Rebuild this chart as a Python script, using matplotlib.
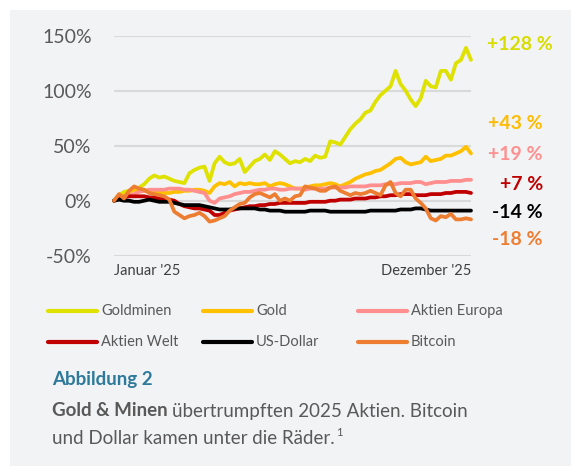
import matplotlib
matplotlib.use("Agg")
import matplotlib.pyplot as plt
from matplotlib.patches import Rectangle
from matplotlib.lines import Line2D

# values in % (performance 2025), sampled across the year
goldminen = [0, 5, 8, 9, 10, 12, 15, 20, 23, 21, 22, 20, 18, 17, 16, 25, 28, 30, 31, 18,
             34, 40, 35, 33, 34, 38, 26, 31, 36, 38, 42, 37, 45, 42, 38, 34, 36, 35, 38, 36,
             41, 39, 40, 54, 53, 51, 58, 65, 70, 74, 80, 82, 90, 96, 100, 104, 118, 106, 100, 92,
             86, 93, 109, 104, 103, 118, 118, 110, 125, 128, 139, 128]
gold = [0, 3, 5, 8, 10, 9, 9, 8, 8, 8, 7, 7, 8, 8, 9, 9, 10, 10, 9, 7,
        13, 16, 15, 17, 13, 16, 15, 16, 15, 15, 16, 13, 15, 16, 15, 13, 11, 11, 12, 13,
        14, 14, 15, 16, 15, 13, 15, 17, 20, 22, 24, 25, 27, 28, 31, 34, 38, 39, 35, 33,
        34, 35, 40, 36, 37, 38, 41, 41, 43, 45, 49, 43]
aktien_europa = [0, 2, 4, 5, 6, 8, 9, 10, 10, 10, 10, 11, 11, 11, 10, 10, 9, 8, 7, 0,
                 -2, 2, 3, 4, 6, 7, 8, 8, 9, 10, 10, 11, 11, 10, 10, 11, 11, 11, 10, 11,
                 11, 11, 11, 12, 12, 12, 12, 13, 13, 13, 13, 14, 14, 14, 15, 15, 15, 16, 16, 16,
                 17, 17, 15, 16, 17, 17, 17, 18, 18, 18, 19, 19]
aktien_welt = [0, 2, 3, 4, 4, 4, 4, 3, 3, 2, 1, 1, 0, -3, -5, -6, -7, -7, -8, -9,
               -13, -13, -11, -9, -8, -7, -6, -5, -5, -4, -4, -3, -3, -2, -2, -2, -2, -2, -2, -1,
               -1, -1, -1, 0, 0, 1, 1, 1, 2, 2, 2, 3, 3, 4, 4, 5, 5, 6, 6, 6,
               5, 5, 5, 6, 6, 6, 7, 7, 8, 8, 8, 7]
us_dollar = [0, 1, 0, 0, -1, -1, 0, 1, 0, -1, -1, -1, -2, -3, -4, -4, -4, -4, -5, -6,
             -7, -8, -8, -8, -7, -7, -7, -7, -7, -8, -8, -9, -9, -9, -10, -10, -10, -10, -10, -9,
             -9, -9, -9, -10, -10, -10, -10, -10, -10, -10, -10, -9, -9, -9, -9, -9, -9, -8, -8, -8,
             -7, -7, -8, -9, -9, -9, -9, -9, -9, -9, -9, -9]
bitcoin = [0, 6, 2, 9, 13, 11, 10, 7, 6, 5, 4, 1, -10, -13, -16, -14, -13, -11, -14, -19,
           -18, -16, -14, -9, -6, -3, -2, 3, 6, 7, 5, 3, 6, 0, 2, 0, 4, 5, 13, 12,
           11, 9, 9, 12, 13, 9, 7, 5, 7, 6, 7, 9, 7, 5, 14, 17, 7, 4, 10, 10,
           2, -2, -7, -16, -18, -14, -15, -12, -17, -17, -16, -17]

series_names = ["Goldminen", "Gold", "Aktien Europa", "Aktien Welt", "US-Dollar", "Bitcoin"]
series_values = [goldminen, gold, aktien_europa, aktien_welt, us_dollar, bitcoin]
end_labels = ["+128 %", "+43 %", "+19 %", "+7 %", "-14 %", "-18 %"]
y_ticks = [-50, 0, 50, 100, 150]
y_tick_labels = ["-50%", "0%", "50%", "100%", "150%"]
x_tick_labels = ["Januar '25", "Dezember '25"]

colors = ["#dfe200", "#ffc000", "#ff8f8f", "#c00000", "#000000", "#ed7d31"]
label_colors = ["#d9dc00", "#ffbb00", "#ff8f8f", "#c00000", "#000000", "#ed7d31"]

W, H = 571, 470
fig = plt.figure(figsize=(W / 100, H / 100), dpi=100)
fig.patch.set_facecolor("white")
plt.rcParams["font.family"] = ["Lato", "DejaVu Sans"]


def fx(px):
    return px / W


def fy(py):
    return 1 - py / H


# grey panel behind everything
panel = Rectangle((fx(10), fy(466)), 1 - fx(10), 456 / H, transform=fig.transFigure,
                  facecolor="#f2f3f5", edgecolor="none", zorder=-10)
fig.add_artist(panel)

ax = fig.add_axes([fx(114), fy(255.7), fx(471) - fx(114), 220 / H])
ax.set_zorder(1)
ax.set_facecolor("none")
n = len(goldminen)
days = list(range(n))
for vals, c in zip(series_values, colors):
    ax.plot(days, vals, color=c, lw=2.7, solid_joinstyle="round", solid_capstyle="round", clip_on=False)

ax.set_xlim(0, n - 1)
ax.set_ylim(-50, 150)
ax.set_yticks(y_ticks)
ax.set_yticklabels(y_tick_labels, fontsize=14, color="#595959")
ax.grid(axis="y", color="#d9d9d9", lw=1.5)
ax.set_axisbelow(True)
ax.set_xticks([0, n - 1])
ax.set_xticklabels(x_tick_labels, fontsize=10.5, color="#404040")
ax.get_xticklabels()[0].set_ha("left")
ax.get_xticklabels()[1].set_ha("right")
ax.tick_params(axis="y", length=0, pad=16)
ax.tick_params(axis="x", length=0, pad=6)
for s in ax.spines.values():
    s.set_visible(False)

# end labels
label_pos = [(487, 44, "left"), (543, 124, "right"), (543, 155, "right"),
             (543, 184, "right"), (543, 213, "right"), (543, 240, "right")]
for txt, c, (px, py, ha) in zip(end_labels, label_colors, label_pos):
    fig.text(fx(px), fy(py), txt, color=c, fontsize=14, fontweight="bold", ha=ha, va="center")

# legend
col_x = [48, 203, 358]
row_y = [311, 341.5]
for i, (name, c) in enumerate(zip(series_names, colors)):
    lx = col_x[i % 3]
    ly = row_y[i // 3]
    fig.add_artist(Line2D([fx(lx), fx(lx + 49)], [fy(ly), fy(ly)], color=c, lw=3,
                          solid_capstyle="round", transform=fig.transFigure))
    fig.text(fx(lx + 53), fy(ly), name, fontsize=10.5, color="#595959", va="center", ha="left")

# caption
fig.text(fx(52), fy(380), "Abbildung 2", fontsize=13.5, fontweight="bold", color="#2e7a9b",
         va="center", ha="left")
bold = fig.text(fx(52), fy(411), "Gold & Minen", fontsize=13.5, fontweight="bold",
                color="#595959", va="center", ha="left")
fig.canvas.draw()
bb = bold.get_window_extent()
fig.text((bb.x1 + 4) / W, fy(411), "übertrumpften 2025 Aktien. Bitcoin", fontsize=13.5,
         color="#595959", va="center", ha="left")
last = fig.text(fx(52), fy(438), "und Dollar kamen unter die Räder.", fontsize=13.5,
                color="#595959", va="center", ha="left")
fig.canvas.draw()
bb2 = last.get_window_extent()
fig.text((bb2.x1 + 1) / W, fy(433), "1", fontsize=8, color="#595959", va="center", ha="left")

fig.savefig("out.png", dpi=100)
